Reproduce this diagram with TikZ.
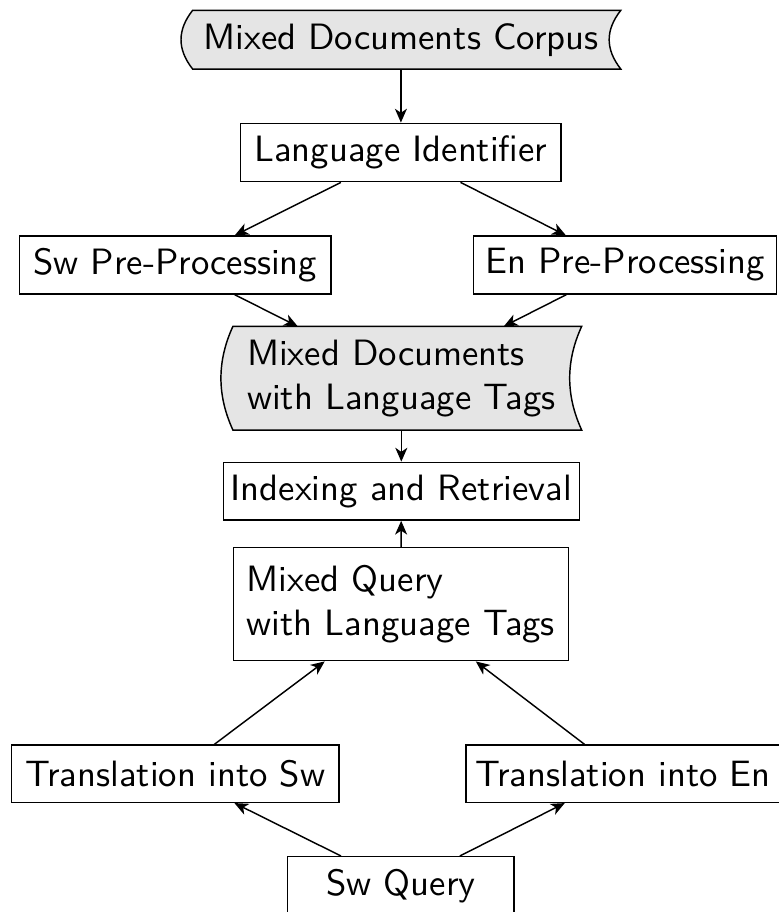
\documentclass[tikz,border=0pt]{standalone}
\usepackage{fontspec}
\usetikzlibrary{arrows.meta,calc,backgrounds}
\def\pxl{0.2755}
\begin{document}
\begin{tikzpicture}[x=0.2755pt,y=-0.2755pt,
  txt/.style={font=\sffamily\fontsize{10.1}{12.1}\selectfont},
  sz/.style 2 args={minimum width={#1*\pxl*1pt}, minimum height={#2*\pxl*1pt}},
  box/.style={txt, draw, rectangle, inner sep=2pt},
  tapebox/.style={txt, rectangle, inner sep=2pt, align=left},
  tapeline/.style={draw, fill=black!10},
  arr/.style={-{Stealth[length=3.8pt,width=3.3pt,inset=1.1pt]}}
]
\useasboundingbox (0,0) rectangle (778,912);

\node[tapebox, sz={438.3}{57.3}] (corpus) at (400.9,39.7) {Mixed Documents Corpus};
\node[box, sz={320.3}{58.4}] (lid) at (400.9,152.5) {Language Identifier};
\node[box, sz={311.7}{58}] (swpre) at (175.2,265) {Sw Pre-Processing};
\node[box, sz={303.4}{58}] (enpre) at (625,265) {En Pre-Processing};
\node[tapebox, sz={359.3}{102.3}] (tagged) at (401.3,378.2) {Mixed Documents\\with Language Tags};
\node[box, sz={350.7}{57.7}] (ir) at (401.3,491.2) {Indexing and Retrieval};
\node[box, align=left, sz={335}{113}] (mq) at (400.8,604.2) {Mixed Query\\with Language Tags};
\node[box, sz={327.3}{57.3}] (tsw) at (175.3,773.7) {Translation into Sw};
\node[box, sz={314}{57.3}] (ten) at (623,773.7) {Translation into En};
\node[box, sz={226.3}{58}] (swq) at (400.85,885.7) {Sw Query};

\begin{pgfonlayer}{background}
\draw[tapeline] ($(corpus.north west)+(11.6,0)$) -- (corpus.north east)
  .. controls ($(corpus.east)+(-15.5,-9.55)$) and ($(corpus.east)+(-15.5,9.55)$) .. (corpus.south east)
  -- ($(corpus.south west)+(11.6,0)$)
  .. controls ($(corpus.west)+(-3.9,9.55)$) and ($(corpus.west)+(-3.9,-9.55)$) .. ($(corpus.north west)+(11.6,0)$) -- cycle;
\draw[tapeline] ($(tagged.north west)+(12,0)$) -- (tagged.north east)
  .. controls ($(tagged.east)+(-16,-17)$) and ($(tagged.east)+(-16,17)$) .. (tagged.south east)
  -- ($(tagged.south west)+(12,0)$)
  .. controls ($(tagged.west)+(-4,17)$) and ($(tagged.west)+(-4,-17)$) .. ($(tagged.north west)+(12,0)$) -- cycle;
\end{pgfonlayer}

\draw[arr] (corpus) -- (lid);
\draw[arr] (lid) -- (swpre);
\draw[arr] (lid) -- (enpre);
\draw[arr] (swpre) -- (tagged);
\draw[arr] (enpre) -- (tagged);
\draw[arr] (tagged) -- (ir);
\draw[arr] (mq) -- (ir);
\draw[arr] (tsw) -- (mq);
\draw[arr] (ten) -- (mq);
\draw[arr] (swq) -- (tsw);
\draw[arr] (swq) -- (ten);
\end{tikzpicture}
\end{document}
